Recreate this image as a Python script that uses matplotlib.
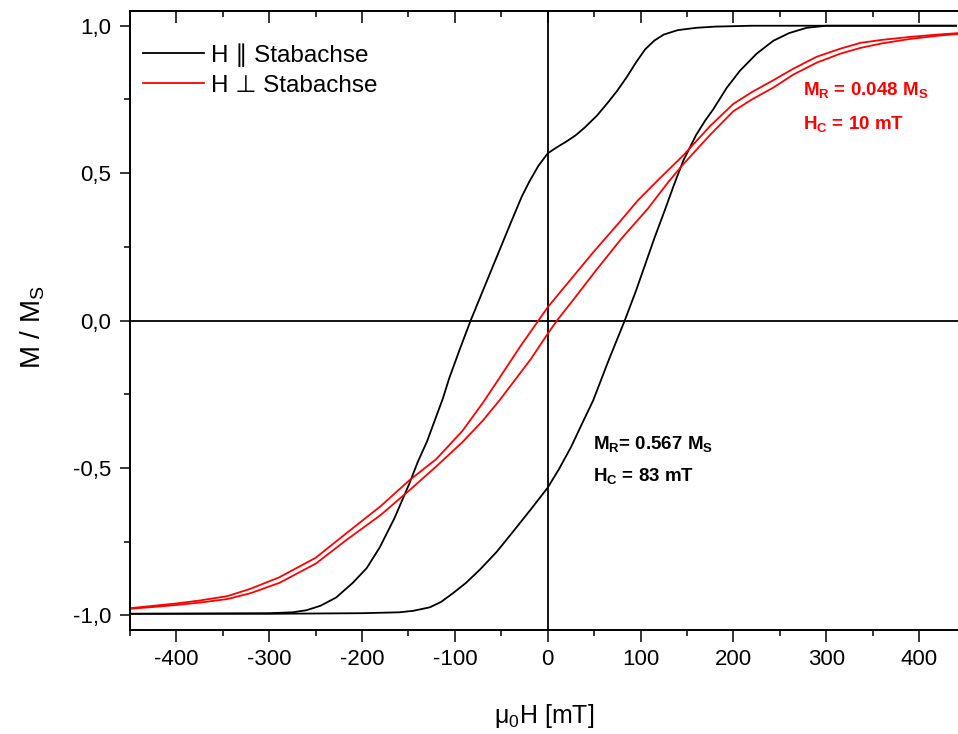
import matplotlib
matplotlib.use("Agg")
from matplotlib import pyplot as plt
from matplotlib.ticker import MultipleLocator, FixedLocator, FixedFormatter

plt.rcParams['font.family'] = ['Liberation Sans', 'DejaVu Sans']
plt.rcParams['mathtext.fontset'] = 'custom'
plt.rcParams['mathtext.rm'] = 'Liberation Sans'
plt.rcParams['mathtext.it'] = 'Liberation Sans:italic'
plt.rcParams['mathtext.bf'] = 'Liberation Sans:bold'

# H parallel to rod axis (black loop)
par_down_h = [440, 300, 220, 180, 160, 140, 125, 115, 105, 95, 85, 75, 65, 53, 40,
              30, 20, 10, 0, -10, -20, -28, -40, -55, -70, -83, -95, -106, -113,
              -130, -140, -149, -165, -181, -195, -210, -228, -245, -260, -275,
              -300, -450]
par_down_m = [1.0, 1.0, 1.0, 0.997, 0.993, 0.985, 0.97, 0.95, 0.92, 0.875, 0.825,
              0.78, 0.74, 0.695, 0.655, 0.628, 0.607, 0.588, 0.567, 0.525, 0.47,
              0.42, 0.33, 0.215, 0.1, 0.0, -0.1, -0.195, -0.265, -0.41, -0.48,
              -0.553, -0.67, -0.77, -0.84, -0.89, -0.94, -0.968, -0.983, -0.99,
              -0.993, -0.995]
par_up_h = [-450, -300, -200, -160, -145, -127, -115, -102, -88, -73, -55, -37, -18,
            0, 12, 25, 37, 49, 65, 83, 95, 105, 115, 126, 136, 146, 160, 170, 178,
            193, 207, 225, 243, 260, 279, 300, 440]
par_up_m = [-0.995, -0.995, -0.993, -0.99, -0.985, -0.973, -0.955, -0.925, -0.89,
            -0.845, -0.785, -0.715, -0.64, -0.567, -0.505, -0.43, -0.35, -0.271,
            -0.14, 0.0, 0.1, 0.19, 0.28, 0.373, 0.46, 0.542, 0.63, 0.68, 0.715, 0.79,
            0.847, 0.905, 0.949, 0.975, 0.993, 1.0, 1.0]

# H perpendicular to rod axis (red loop)
perp_down_h = [442, 420, 390, 360, 337, 315, 290, 265, 243, 220, 200, 175, 146, 120,
               97, 75, 50, 25, 0, -10, -30, -52, -70, -92, -120, -149, -180, -217,
               -250, -289, -320, -345, -375, -400, -425, -450]
perp_down_m = [0.975, 0.970, 0.962, 0.952, 0.942, 0.922, 0.895, 0.855, 0.815, 0.775,
               0.735, 0.66, 0.56, 0.48, 0.407, 0.325, 0.235, 0.14, 0.045, 0.0,
               -0.09, -0.195, -0.28, -0.375, -0.47, -0.542, -0.63, -0.722, -0.805,
               -0.871, -0.91, -0.935, -0.95, -0.96, -0.968, -0.976]
perp_up_h = [-450, -425, -400, -375, -345, -320, -289, -250, -217, -180, -149, -120,
             -92, -70, -52, -36, -18, 0, 10, 30, 52, 80, 108, 130, 146, 175, 200, 220,
             243, 265, 290, 315, 337, 360, 390, 420, 442]
perp_up_m = [-0.978, -0.972, -0.965, -0.957, -0.945, -0.925, -0.89, -0.825, -0.745,
             -0.66, -0.576, -0.495, -0.413, -0.34, -0.271, -0.205, -0.13, -0.045,
             0.0, 0.08, 0.17, 0.28, 0.38, 0.47, 0.53, 0.63, 0.71, 0.75, 0.79, 0.835,
             0.875, 0.905, 0.925, 0.94, 0.955, 0.966, 0.972]

y_ticks = [-1.0, -0.5, 0.0, 0.5, 1.0]
y_tick_labels = ["-1,0", "-0,5", "0,0", "0,5", "1,0"]
x_ticks = [-400, -300, -200, -100, 0, 100, 200, 300, 400]
x_tick_labels = ["-400", "-300", "-200", "-100", "0", "100", "200", "300", "400"]

fig = plt.figure(figsize=(9.58, 7.34), dpi=100)
ax = fig.add_axes([130 / 958, 104 / 734, 828 / 958, 619 / 734])

ax.axhline(0, color="black", lw=1.3, zorder=1)
ax.axvline(0, color="black", lw=1.3, zorder=1)

ax.plot(par_down_h, par_down_m, color="black", lw=1.3, label="H \u2225 Stabachse")
ax.plot(par_up_h, par_up_m, color="black", lw=1.3)
ax.plot(perp_down_h, perp_down_m, color="#ff0000", lw=1.3, label="H \u22a5 Stabachse")
ax.plot(perp_up_h, perp_up_m, color="#ff0000", lw=1.3)

ax.set_xlim(-450, 442)
ax.set_ylim(-1.05, 1.05)

ax.xaxis.set_major_locator(FixedLocator(x_ticks))
ax.xaxis.set_major_formatter(FixedFormatter(x_tick_labels))
ax.xaxis.set_minor_locator(MultipleLocator(50))
ax.yaxis.set_major_locator(FixedLocator(y_ticks))
ax.yaxis.set_major_formatter(FixedFormatter(y_tick_labels))
ax.yaxis.set_minor_locator(MultipleLocator(0.25))

ax.tick_params(axis="x", which="major", direction="out", length=8.5, width=1.1,
               labelsize=16, pad=5, top=True)
ax.tick_params(axis="x", which="minor", direction="out", length=4.5, width=1.1, top=True)
ax.tick_params(axis="y", which="major", direction="out", length=7.5, width=1.1,
               labelsize=16, pad=6, right=False)
ax.tick_params(axis="y", which="minor", direction="out", length=4, width=1.1, right=False)

# top ticks point inwards
for t in ax.xaxis.get_major_ticks() + ax.xaxis.get_minor_ticks():
    t.tick2line.set_marker(3)

for side in ["left", "bottom", "top"]:
    ax.spines[side].set_linewidth(1.4)
ax.spines["right"].set_visible(False)

ax.set_xlabel("\u03bc$_0$H [mT]", fontsize=18)
ax.set_ylabel("M / M$_\\mathrm{S}$", fontsize=20)
ax.xaxis.set_label_coords(0.5, -0.116)
ax.yaxis.set_label_coords(-0.100, 0.49)

ax.legend(loc="upper left", bbox_to_anchor=(0.0157, 0.948), frameon=False,
          fontsize=17.5, handlelength=2.5, handletextpad=0.3, labelspacing=0.33,
          borderpad=0, borderaxespad=0)

ax.text(275, 0.765, "M$_\\mathbf{R}$ = 0.048 M$_\\mathbf{S}$", color="#ff0000",
        fontsize=13.5, fontweight="bold")
ax.text(275, 0.65, "H$_\\mathbf{C}$ = 10 mT", color="#ff0000",
        fontsize=13.5, fontweight="bold")

ax.text(49, -0.435, "M$_\\mathbf{R}$= 0.567 M$_\\mathbf{S}$", color="black",
        fontsize=13.5, fontweight="bold")
ax.text(49, -0.543, "H$_\\mathbf{C}$ = 83 mT", color="black",
        fontsize=13.5, fontweight="bold")

fig.savefig("out.png", dpi=100)
